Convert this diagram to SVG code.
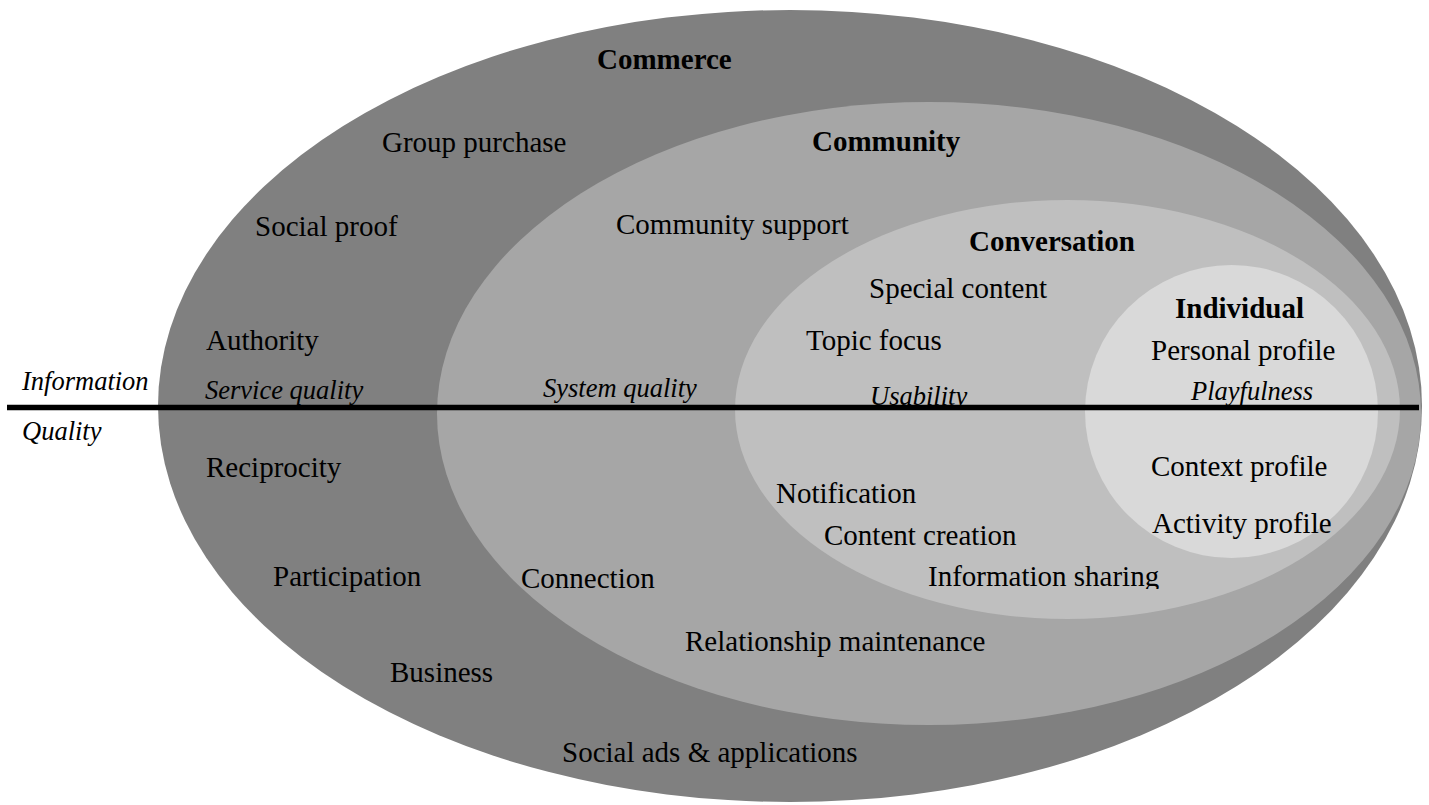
<svg xmlns="http://www.w3.org/2000/svg" width="1429" height="805" viewBox="0 0 1429 805">
  <style>
    text { font-family: "Liberation Serif", "Times New Roman", serif; font-size: 29px; fill: #000; }
    .head { font-weight: bold; }
    .it { font-style: italic; font-size: 26.5px; }
  </style>
  <defs>
    <clipPath id="clipUsability"><rect x="860" y="370" width="120" height="35"/></clipPath>
    <clipPath id="clipSharing"><rect x="920" y="560" width="260" height="29"/></clipPath>
  </defs>
  <rect width="1429" height="805" fill="#fff"/>

  <!-- Nested layers, outermost first -->
  <g id="commerce">
    <ellipse cx="790" cy="406" rx="632" ry="396" fill="#808080"/>
    <text class="head" x="597" y="69">Commerce</text>
    <text x="382" y="152">Group purchase</text>
    <text x="255" y="236">Social proof</text>
    <text x="206" y="350">Authority</text>
    <text class="it" x="205" y="399">Service quality</text>
    <text x="206" y="477">Reciprocity</text>
    <text x="273" y="586">Participation</text>
    <text x="390" y="682">Business</text>
    <text x="562" y="762">Social ads &amp; applications</text>
  </g>

  <g id="community">
    <ellipse cx="929" cy="413.5" rx="492" ry="311.5" fill="#a6a6a6"/>
    <text class="head" x="812" y="151">Community</text>
    <text x="616" y="234">Community support</text>
    <text class="it" x="543" y="397">System quality</text>
    <text x="521" y="588">Connection</text>
    <text x="685" y="651">Relationship maintenance</text>
  </g>

  <g id="conversation">
    <ellipse cx="1067.5" cy="409.5" rx="332.5" ry="209.5" fill="#bfbfbf"/>
    <text class="head" x="969" y="251">Conversation</text>
    <text x="869" y="298">Special content</text>
    <text x="806" y="350">Topic focus</text>
    <text class="it" x="870" y="405" clip-path="url(#clipUsability)">Usability</text>
    <text x="776" y="503">Notification</text>
    <text x="824" y="545">Content creation</text>
    <text x="928" y="586" clip-path="url(#clipSharing)">Information sharing</text>
  </g>

  <g id="individual">
    <ellipse cx="1231.5" cy="411.5" rx="146.5" ry="146.5" fill="#d9d9d9"/>
    <text class="head" x="1175" y="318">Individual</text>
    <text x="1151" y="360">Personal profile</text>
    <text class="it" x="1191" y="400">Playfulness</text>
    <text x="1151" y="476">Context profile</text>
    <text x="1152" y="533">Activity profile</text>
  </g>

  <!-- Divider between information and quality -->
  <g id="connectors">
    <line x1="7" y1="407.5" x2="1419" y2="407.5" stroke="#000" stroke-width="5.5"/>
  </g>

  <g id="axis-labels">
    <text class="it" x="22" y="390">Information</text>
    <text class="it" x="22" y="440">Quality</text>
  </g>
</svg>
